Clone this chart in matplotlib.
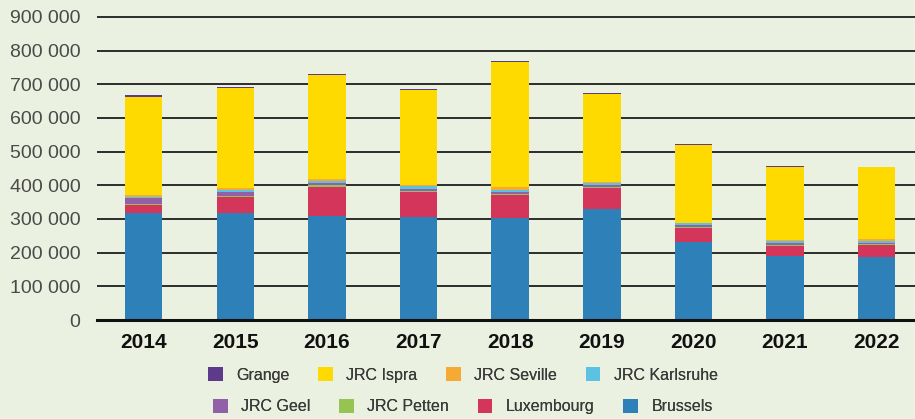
import matplotlib
matplotlib.use("Agg")
import matplotlib.pyplot as plt
from matplotlib.patches import Patch
import numpy as np

years = ["2014", "2015", "2016", "2017", "2018", "2019", "2020", "2021", "2022"]

# stacked from the bottom up
brussels   = [319000, 318000, 310000, 306000, 304000, 330000, 233000, 191000, 187000]
luxembourg = [24000, 48000, 86000, 75000, 67000, 63000, 41000, 30000, 36000]
petten     = [3000, 2000, 5000, 2000, 3000, 3000, 3000, 3000, 2000]
geel       = [15000, 12000, 5000, 5000, 5000, 6000, 5000, 5000, 5000]
karlsruhe  = [3000, 6000, 7000, 11000, 7000, 5000, 5000, 7000, 6000]
seville    = [8000, 7000, 6000, 2000, 9000, 4000, 1000, 2000, 5000]
ispra      = [291000, 296000, 309000, 283000, 371000, 261000, 233000, 217000, 212000]
grange     = [6000, 3000, 3000, 2000, 3000, 2000, 2000, 2000, 2000]

series = [
    ("Brussels", brussels, "#2E80B8"),
    ("Luxembourg", luxembourg, "#D3365A"),
    ("JRC Petten", petten, "#95C453"),
    ("JRC Geel", geel, "#9160A6"),
    ("JRC Karlsruhe", karlsruhe, "#5BC2E3"),
    ("JRC Seville", seville, "#F6A933"),
    ("JRC Ispra", ispra, "#FFDA00"),
    ("Grange", grange, "#5E3A8A"),
]
colors = {name: c for name, _, c in series}

bg = "#EBF1E0"
fig = plt.figure(figsize=(9.15, 4.19), dpi=100, facecolor=bg)
ax = fig.add_axes([97 / 915, 99 / 419, 818 / 915, 306.4 / 419], facecolor=bg)

x = np.arange(len(years))
bottom = np.zeros(len(years))
for name, vals, col in series:
    ax.bar(x, vals, 0.41, bottom=bottom, color=col, linewidth=0, zorder=3)
    bottom += np.array(vals)

ax.set_xlim(-0.51, 8.42)
ax.set_ylim(0, 910000)
yt = np.arange(0, 900001, 100000)
ax.set_yticks(yt)
ax.set_yticklabels(["0"] + [f"{v // 1000} 000" for v in yt[1:]],
                   family="Liberation Sans", fontsize=14, color="#4a4a4a")
for v in yt[1:]:
    ax.axhline(v, color="#1e1e1e", lw=1.3, zorder=1)
ax.axhline(0, color="#111111", lw=2.2, zorder=4, clip_on=False)

ax.set_xticks(x)
ax.set_xticklabels(years, family="Liberation Sans", fontweight="bold",
                   fontsize=15, color="#111111")
ax.tick_params(axis="both", length=0)
ax.tick_params(axis="y", pad=12)
ax.tick_params(axis="x", pad=9)
for s in ax.spines.values():
    s.set_visible(False)

# two centred legend rows, each laid out on its own
row1 = ["Grange", "JRC Ispra", "JRC Seville", "JRC Karlsruhe"]
row2 = ["JRC Geel", "JRC Petten", "Luxembourg", "Brussels"]
font = {"family": "Liberation Sans", "size": 11.5}
for names, yy in [(row1, 0.105), (row2, 0.029)]:
    handles = [Patch(facecolor=colors[n], edgecolor="none") for n in names]
    leg = fig.legend(handles, names, loc="center", bbox_to_anchor=(0.506, yy),
                     ncol=4, frameon=False, prop=font, handlelength=0.9,
                     handleheight=0.9, handletextpad=0.85, columnspacing=1.8,
                     labelcolor="#3a3a3a")
    fig.add_artist(leg)

fig.savefig("out.png", dpi=100, facecolor=bg)
